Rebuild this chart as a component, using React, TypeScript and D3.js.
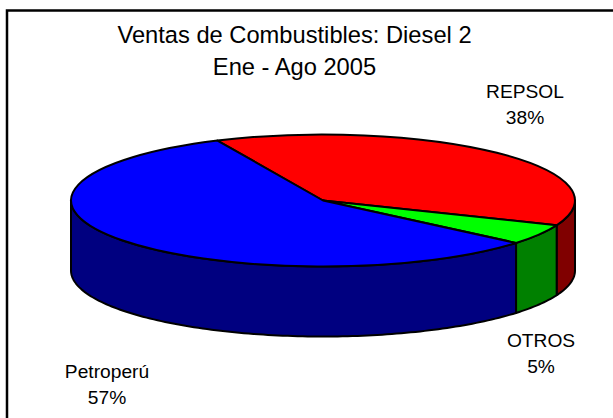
import React from "react";
import * as d3 from "d3";

const categories = ["REPSOL", "OTROS", "Petroperú"];
const shares = [38, 5, 57];
const percentLabels = ["38%", "5%", "57%"];
const topColors = ["#ff0000", "#00ff00", "#0000ff"];
const sideColors = ["#800000", "#008000", "#000080"];
const titleLines = ["Ventas de Combustibles: Diesel 2", "Ene - Ago 2005"];
const labelAnchors = [
  { x: 525, y: 98 },
  { x: 541, y: 347 },
  { x: 107, y: 378 },
];

const W = 613;
const H = 418;
const cx = 323;
const cy = 200.5;
const rx = 252;
const ry = 66;
const depth = 70;
const START = (-24.8 * Math.PI) / 180;

const pie = d3
  .pie<number>()
  .sort(null)
  .startAngle(START)
  .endAngle(START + 2 * Math.PI);
const arcs = pie(shares);
const unitArc = d3.arc();
const pt = (a: number, dy = 0): [number, number] => [
  cx + rx * Math.sin(a),
  cy - ry * Math.cos(a) + dy,
];
const line = d3.line();

function sample(a0: number, a1: number) {
  const n = Math.max(2, Math.ceil((a1 - a0) / 0.02));
  return d3.range(n + 1).map((i) => a0 + ((a1 - a0) * i) / n);
}

function sidePath(a0: number, a1: number) {
  const lo = Math.max(a0, Math.PI / 2);
  const hi = Math.min(a1, (3 * Math.PI) / 2);
  if (hi <= lo) return null;
  const as = sample(lo, hi);
  return (
    line([
      ...as.map((a) => pt(a)),
      ...as.slice().reverse().map((a) => pt(a, depth)),
    ]) + "Z"
  );
}

export default function App() {
  return (
    <svg
      width={W}
      height={H}
      viewBox={`0 0 ${W} ${H}`}
      style={{ position: "absolute", left: 0, top: 0, background: "#fff" }}
      fontFamily="'Liberation Sans', Arial, sans-serif"
    >
      <rect x={7} y={10.5} width={W + 20} height={H + 20} fill="#fff" stroke="#000" strokeWidth={2.5} />
      {arcs.map((d, i) => {
        const p = sidePath(d.startAngle, d.endAngle);
        return p ? <path key={i} d={p} fill={sideColors[i]} stroke="#000" strokeWidth={2} strokeLinejoin="round" /> : null;
      })}
      {arcs.map((d, i) => (
        <path
          key={i}
          d={unitArc({ innerRadius: 0, outerRadius: 1, startAngle: d.startAngle, endAngle: d.endAngle }) as string}
          transform={`translate(${cx},${cy}) scale(${rx},${ry})`}
          fill={topColors[i]}
          stroke="#000"
          strokeWidth={2}
          strokeLinejoin="round"
          vectorEffect="non-scaling-stroke"
        />
      ))}
      {titleLines.map((t, i) => (
        <text key={t} x={294.5} y={43 + i * 31.5} textAnchor="middle" fontSize={23.7} fill="#000">
          {t}
        </text>
      ))}
      {categories.map((c, i) => (
        <g key={c} textAnchor="middle" fontSize={19.2} fill="#000">
          <text x={labelAnchors[i].x} y={labelAnchors[i].y}>{c}</text>
          <text x={labelAnchors[i].x} y={labelAnchors[i].y + 25.5}>{percentLabels[i]}</text>
        </g>
      ))}
    </svg>
  );
}
